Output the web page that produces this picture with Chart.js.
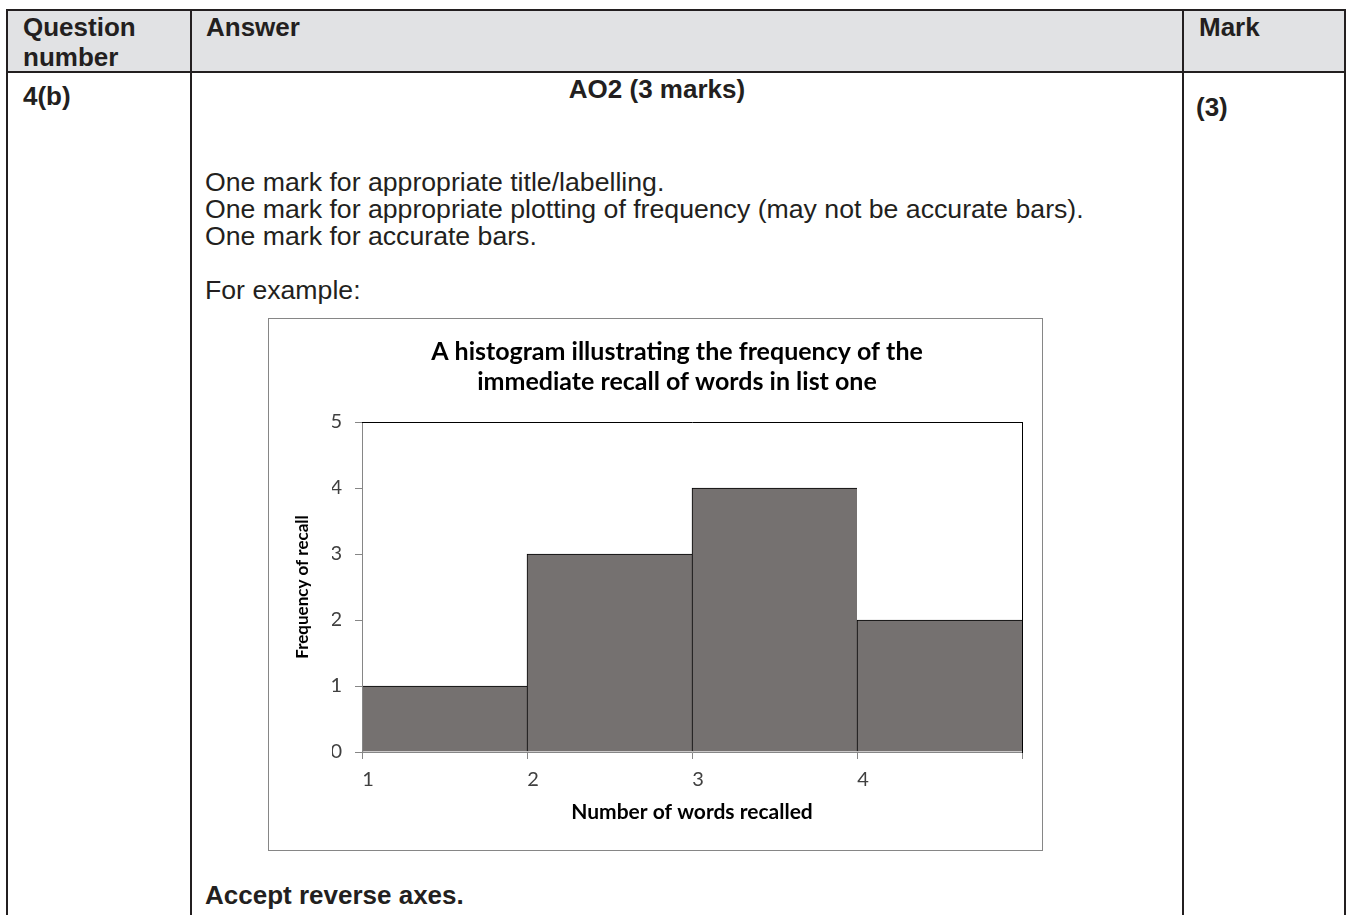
<!DOCTYPE html>
<html>
<head>
<meta charset="utf-8">
<script src="https://cdn.jsdelivr.net/npm/chart.js@4.4.1/dist/chart.umd.min.js"></script>
<style>
  body { margin: 0; background: #fff; width: 1347px; height: 915px; overflow: hidden; position: relative;
         font-family: "Liberation Sans", Arial, sans-serif; color: #231f20; }
  .rule { position: absolute; background: #231f20; }
  .txt { position: absolute; white-space: nowrap; font-size: 26px; line-height: 30px; }
  .b { font-weight: bold; }
  .body { font-size: 26.67px; line-height: 27px; }
  #box { position: absolute; left: 268px; top: 318px; width: 775px; height: 533px; box-sizing: border-box;
         border: 1px solid #868686; }
  #chart { position: absolute; left: 268px; top: 318px; }
</style>
</head>
<body>
<!-- table frame -->
<div style="position:absolute;left:7px;top:10px;width:1338px;height:62px;background:#e1e2e4"></div>
<div class="rule" style="left:6px;top:9px;width:1340px;height:2px"></div>
<div class="rule" style="left:6px;top:71px;width:1340px;height:2px"></div>
<div class="rule" style="left:6px;top:9px;width:2px;height:906px"></div>
<div class="rule" style="left:190px;top:9px;width:2px;height:906px"></div>
<div class="rule" style="left:1182px;top:9px;width:2px;height:906px"></div>
<div class="rule" style="left:1344px;top:9px;width:2px;height:906px"></div>

<div class="txt b" style="left:23px;top:12px">Question<br>number</div>
<div class="txt b" style="left:206px;top:12px">Answer</div>
<div class="txt b" style="left:1199px;top:12px">Mark</div>

<div class="txt b" style="left:23px;top:81px">4(b)</div>
<div class="txt b" style="left:1196px;top:92px">(3)</div>
<div class="txt b" style="left:457px;top:74px;width:400px;text-align:center">AO2 (3 marks)</div>

<div class="txt body" style="left:205px;top:169px">One mark for appropriate title/labelling.<br>One mark for appropriate plotting of frequency (may not be accurate bars).<br>One mark for accurate bars.</div>
<div class="txt body" style="left:205px;top:277px">For example:</div>
<div class="txt b" style="left:205px;top:880px">Accept reverse axes.</div>

<div id="box"></div>
<canvas id="chart" width="775" height="533"></canvas>

<script>
'use strict'
// data
let binEdges = [1, 2, 3, 4, 5]//class boundaries on x
let frequencies = [1, 3, 4, 2]//bar heights
let xTickLabels = ['1', '2', '3', '4']//last edge (5) has no label
let yTickLabels = ['0', '1', '2', '3', '4', '5']

let chartTitle = ['A histogram illustrating the frequency of the', 'immediate recall of words in list one']
let xTitle = 'Number of words recalled'
let yTitle = 'Frequency of recall'

// one point per bin, placed at the middle of its two edges
let points = []
for (let i = 0; i < frequencies.length; i++) {
  points.push({ x: (binEdges[i] + binEdges[i + 1]) / 2, y: frequencies[i] })
}

let axisGrey = '#868686'
let font = 'Lato'

let ctx = document.getElementById('chart').getContext('2d')

let chartObject = {
  type: 'bar',
  data: {
    datasets: [{
      data: points,
      backgroundColor: '#757170',
      borderColor: '#000',
      borderWidth: { top: 1, left: 1, right: 0, bottom: 0 },
      borderSkipped: 'start',
      barPercentage: 1,
      categoryPercentage: 1
    }]
  },
  options: {
    responsive: false,
    animation: false,
    layout: { padding: { left: 64, right: 21, top: 0, bottom: 0 } },
    plugins: {
      legend: { display: false },
      tooltip: { enabled: false },
      title: {
        display: true,
        text: chartTitle,
        color: '#000',
        font: { family: font, size: 25, weight: 'bold', lineHeight: 30 / 25 },
        padding: { top: 19, bottom: 25 }
      }
    },
    scales: {
      x: {
        type: 'linear',
        position: 'bottom',
        min: binEdges[0],
        max: binEdges[binEdges.length - 1],
        offset: false,
        afterFit: s => { s.height = 99 },
        ticks: {
          stepSize: 1,
          padding: 9,
          labelOffset: 6,
          color: '#404040',
          font: { family: font, size: 20 },
          callback: v => xTickLabels[v - binEdges[0]] || ''
        },
        grid: { offset: false, drawOnChartArea: false, tickLength: 7, color: axisGrey },
        border: { color: axisGrey, z: 1 },
        title: {
          display: true,
          text: xTitle,
          color: '#000',
          font: { family: font, size: 21, weight: 'bold', lineHeight: 1.2 },
          padding: { top: 0, bottom: 26 }
        }
      },
      y: {
        min: 0,
        max: 5,
        afterFit: s => { s.width = 30 },
        ticks: {
          stepSize: 1,
          padding: 13,
          color: '#404040',
          font: { family: font, size: 20 },
          callback: (v, i) => yTickLabels[i]
        },
        grid: { drawOnChartArea: false, tickLength: 7, color: axisGrey },
        border: { color: axisGrey, z: 1 },
        title: {
          display: true,
          text: yTitle,
          color: '#000',
          font: { family: font, size: 17, weight: 'bold', lineHeight: 1.2 },
          padding: { top: -40, bottom: 0 }
        }
      },
      // top and right edges of the plot area
      x2: {
        type: 'linear', position: 'top', display: true, offset: false,
        min: binEdges[0], max: binEdges[binEdges.length - 1],
        afterFit: s => { s.height = 0 },
        ticks: { display: false },
        grid: { offset: false, drawOnChartArea: false, drawTicks: false },
        border: { color: '#000', z: 1 }
      },
      y2: {
        position: 'right', display: true, min: 0, max: 5,
        afterFit: s => { s.width = 0 },
        ticks: { display: false },
        grid: { drawOnChartArea: false, drawTicks: false },
        border: { color: '#000', z: 1 }
      }
    }
  }
}

const myChart = new Chart(ctx, chartObject)
</script>
</body>
</html>
